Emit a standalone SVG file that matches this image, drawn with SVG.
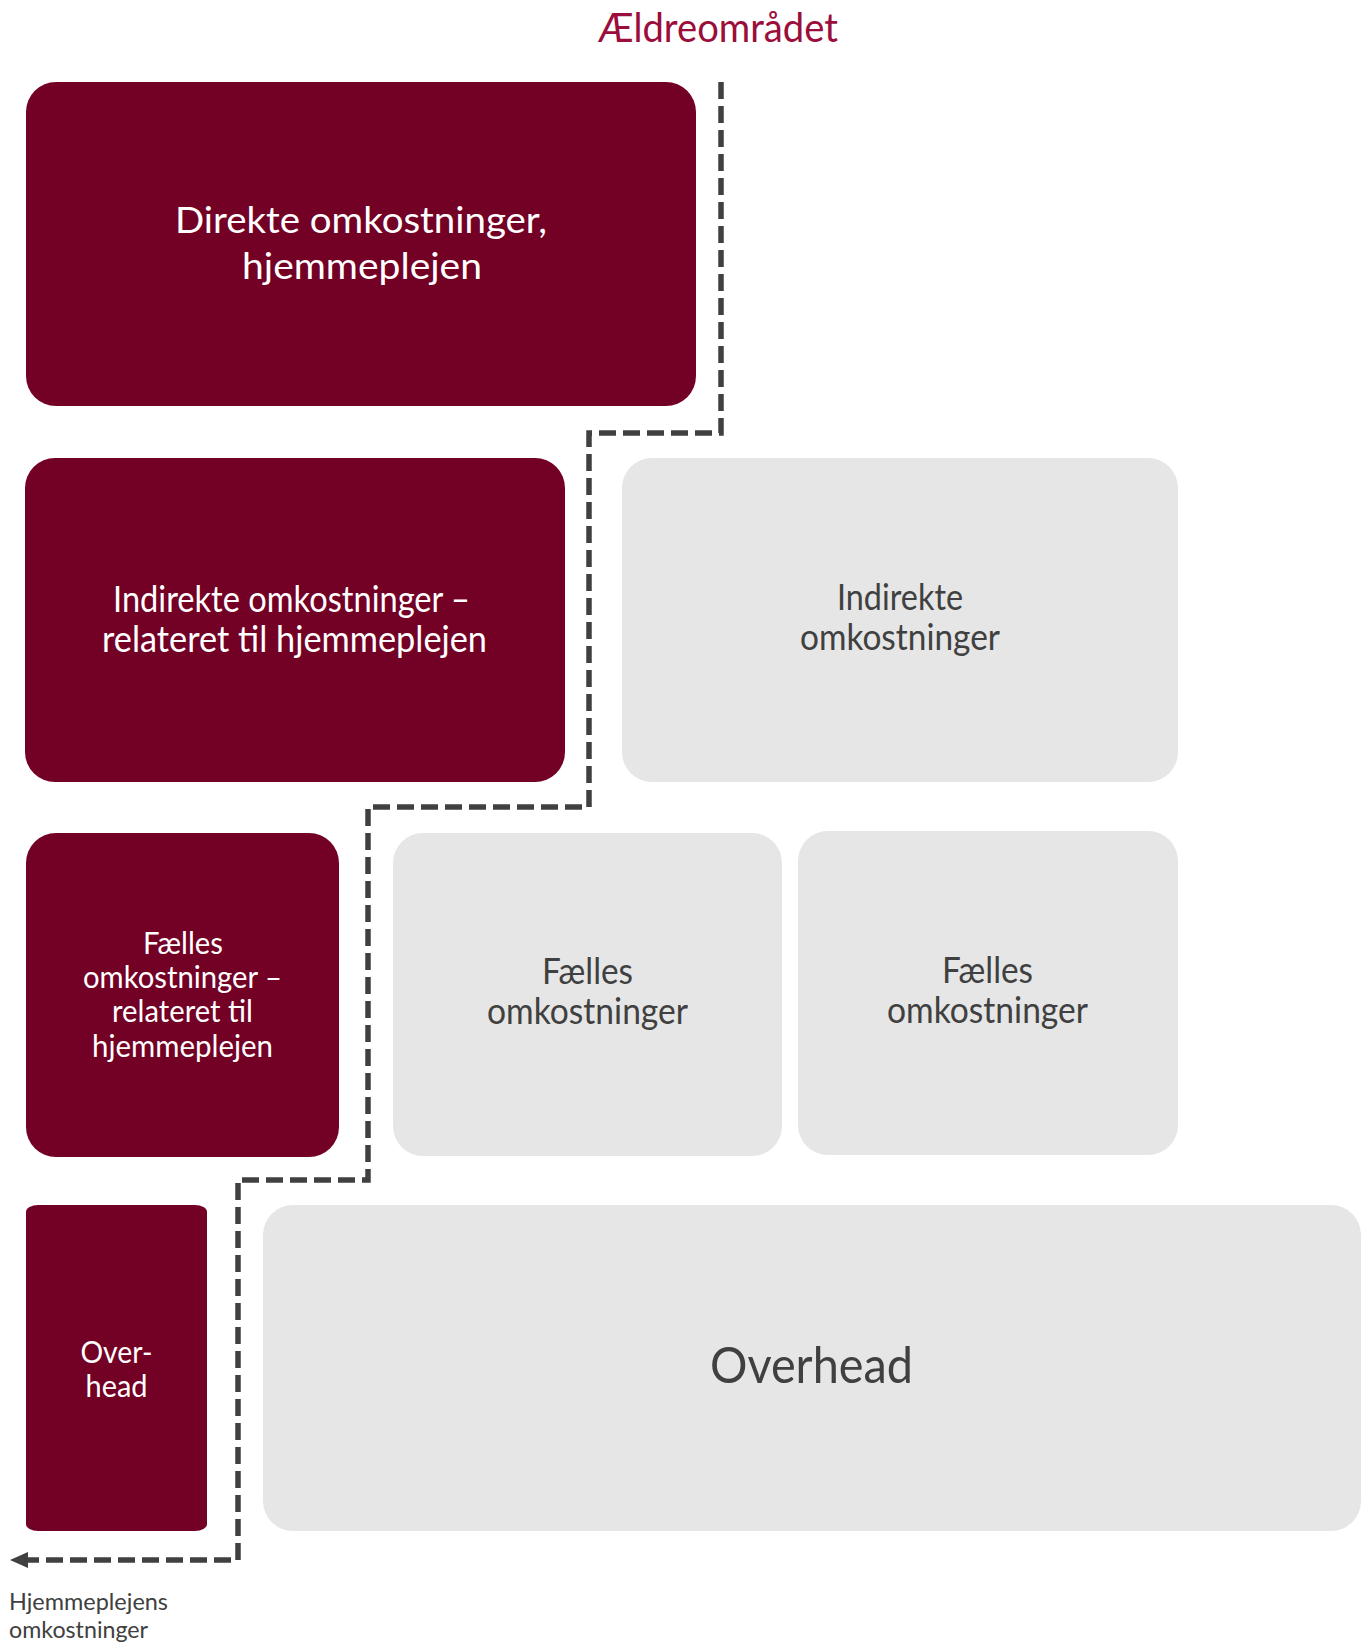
<svg xmlns="http://www.w3.org/2000/svg" width="1368" height="1644" viewBox="0 0 1368 1644">
<style>
.dark{fill:#730025}
.gray{fill:#e6e6e6}
text{font-family:Lato,"Open Sans","Liberation Sans",sans-serif;text-anchor:middle}
.w{fill:#ffffff}
.g{fill:#404040}
.m{font-size:36px}
.s{font-size:30px}
.conn{fill:none;stroke:#404040;stroke-width:5.5;stroke-dasharray:17 7}
</style>
<text id="title" x="718" y="42" style="font-size:40px;fill:#9b0d3a" textLength="240" lengthAdjust="spacingAndGlyphs">Ældreområdet</text>
<g id="connectors">
<path class="conn" d="M721,82 V433 H589 V807 H368 V1180 H238 V1560 H28"/>
<path d="M10,1560 L28,1552 L28,1568 Z" fill="#404040"/>
</g>
<g id="n1">
<rect class="dark" x="26" y="82" width="670" height="324" rx="30"/>
<text class="w m" x="361" y="233" textLength="372" lengthAdjust="spacingAndGlyphs">Direkte omkostninger,</text>
<text class="w m" x="362" y="279" textLength="240" lengthAdjust="spacingAndGlyphs">hjemmeplejen</text>
</g>
<g id="n2">
<rect class="dark" x="25" y="458" width="540" height="324" rx="30"/>
<text class="w m" x="291.5" y="612" textLength="357" lengthAdjust="spacingAndGlyphs">Indirekte omkostninger –</text>
<text class="w m" x="294.5" y="652" textLength="385" lengthAdjust="spacingAndGlyphs">relateret til hjemmeplejen</text>
</g>
<g id="n3">
<rect class="gray" x="622" y="458" width="556" height="324" rx="30"/>
<text class="g m" x="900" y="610" textLength="126" lengthAdjust="spacingAndGlyphs">Indirekte</text>
<text class="g m" x="900" y="650" textLength="200" lengthAdjust="spacingAndGlyphs">omkostninger</text>
</g>
<g id="n4">
<rect class="dark" x="26" y="833" width="313" height="324" rx="30"/>
<text class="w s" x="183" y="954" textLength="80" lengthAdjust="spacingAndGlyphs">Fælles</text>
<text class="w s" x="182.5" y="988" textLength="199" lengthAdjust="spacingAndGlyphs">omkostninger –</text>
<text class="w s" x="182.5" y="1022" textLength="141" lengthAdjust="spacingAndGlyphs">relateret til</text>
<text class="w s" x="182.5" y="1057" textLength="181" lengthAdjust="spacingAndGlyphs">hjemmeplejen</text>
</g>
<g id="n5">
<rect class="gray" x="393" y="833" width="389" height="323" rx="30"/>
<text class="g m" x="587.5" y="984" textLength="91" lengthAdjust="spacingAndGlyphs">Fælles</text>
<text class="g m" x="587.5" y="1024" textLength="201" lengthAdjust="spacingAndGlyphs">omkostninger</text>
</g>
<g id="n6">
<rect class="gray" x="798" y="831" width="380" height="324" rx="30"/>
<text class="g m" x="987.5" y="983" textLength="91" lengthAdjust="spacingAndGlyphs">Fælles</text>
<text class="g m" x="987.5" y="1023" textLength="201" lengthAdjust="spacingAndGlyphs">omkostninger</text>
</g>
<g id="n7">
<rect class="dark" x="26" y="1205" width="181" height="326" rx="12" ry="7"/>
<text class="w s" x="116.5" y="1363" textLength="72" lengthAdjust="spacingAndGlyphs">Over-</text>
<text class="w s" x="116.5" y="1397" textLength="62" lengthAdjust="spacingAndGlyphs">head</text>
</g>
<g id="n8">
<rect class="gray" x="263" y="1205" width="1098" height="326" rx="30"/>
<text class="g" x="811.5" y="1383" style="font-size:50px" textLength="203" lengthAdjust="spacingAndGlyphs">Overhead</text>
</g>
<g id="label">
<text class="g" x="9" y="1610" style="font-size:23px;text-anchor:start" textLength="159" lengthAdjust="spacingAndGlyphs">Hjemmeplejens</text>
<text class="g" x="9" y="1638" style="font-size:23px;text-anchor:start" textLength="139" lengthAdjust="spacingAndGlyphs">omkostninger</text>
</g>
</svg>
